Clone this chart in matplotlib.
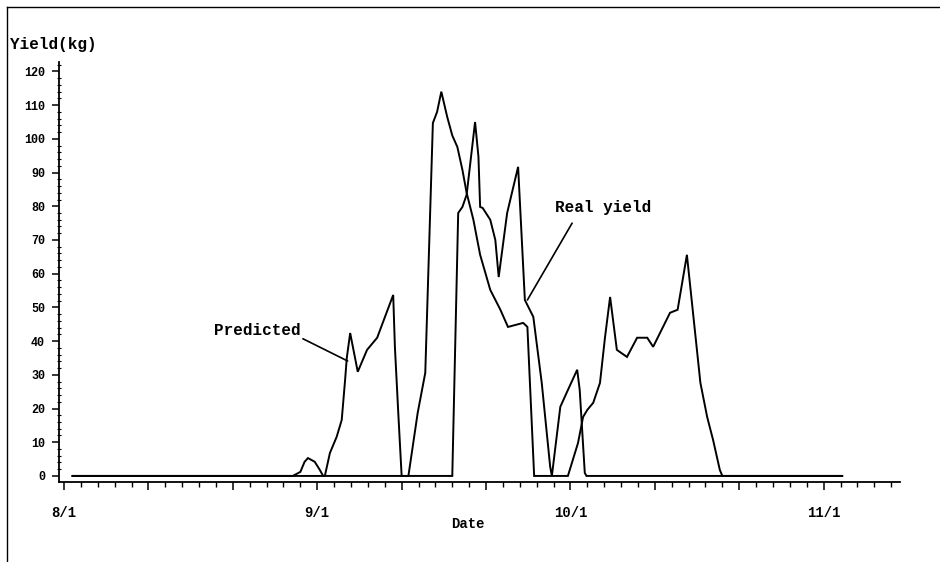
import matplotlib
matplotlib.use("Agg")
import matplotlib.pyplot as plt
from matplotlib.lines import Line2D
from matplotlib.ticker import MultipleLocator, FixedLocator

# ---- data (x in day-units from 8/1; 9/1=30, 10/1=60, 11/1=90) ----
pred_x = [1, 30.9, 31.5, 32.3, 32.9, 33.3, 33.5, 33.9, 34.8, 35.9, 37.1, 39.0, 39.2, 39.6, 40.0,
          40.8, 41.9, 42.8, 43.7, 44.2, 44.7, 45.4, 46.0, 46.6, 47.2, 47.7, 48.5, 49.3, 50.5,
          51.7, 52.6, 54.4, 54.9, 55.2, 55.7, 59.7, 60.9, 61.5, 62.0, 62.7, 63.5, 64.1, 64.7,
          65.5, 66.7, 67.9, 69.1, 69.8, 71.8, 72.7, 73.8, 75.4, 76.2, 76.9, 77.7, 78.0, 92.2]
pred_y = [0, 0, 6.8, 11.6, 16.6, 28.5, 35, 42.4, 30.9, 37.4, 41, 53.7, 38.3, 18.7, 0,
          0, 18.7, 30.6, 104.7, 108, 114, 106.5, 101, 97.6, 90.8, 84, 76, 65.6, 55.2,
          49.3, 44.2, 45.4, 44.2, 27.6, 0, 0, 9.8, 17.5, 19.6, 21.7, 27.6, 41.2, 53.1,
          37.4, 35.3, 41, 41, 38.3, 48.4, 49.3, 65.6, 27.6, 17.5, 10.7, 1.8, 0, 0]

real_x = [1, 27.1, 28.0, 28.5, 28.9, 29.7, 30.3, 30.7, 46.0, 46.7, 47.2, 47.7, 48.7, 49.1,
          49.3, 49.6, 50.5, 51.1, 51.5, 52.5, 53.8, 54.6, 55.6, 56.6, 57.6, 57.8, 58.8, 59.7,
          60.8, 61.1, 61.7, 61.9, 92.2]
real_y = [0, 0, 1.2, 4.2, 5.3, 4.2, 1.8, 0, 0, 78, 79.8, 83.4, 105, 94.7,
          79.8, 79.5, 76, 70, 59, 78, 91.7, 52.2, 47.2, 27.6, 2.7, 0, 20.5, 25.5,
          31.5, 25.5, 0.9, 0, 0]

x_tick_pos = [0, 30, 60, 90]
x_tick_labels = ["8/1", "9/1", "10/1", "11/1"]
y_ticks = list(range(0, 121, 10))

MONO = ["Liberation Mono", "DejaVu Sans Mono"]

fig = plt.figure(figsize=(9.4, 5.62), dpi=100)
fig.patch.set_facecolor("white")

W, H = 940.0, 562.0
ax = fig.add_axes([59 / W, (H - 482) / H, (900 - 59) / W, 420 / H])
ax.set_xlim(-0.6, 99.05)
ax.set_ylim(-1.8, 122.8)

ax.plot(pred_x, pred_y, color="black", lw=1.4, solid_joinstyle="miter")
ax.plot(real_x, real_y, color="black", lw=1.4, solid_joinstyle="miter")

for s in ["top", "right"]:
    ax.spines[s].set_visible(False)
for s in ["left", "bottom"]:
    ax.spines[s].set_linewidth(1.3)

# y ticks
ax.yaxis.set_major_locator(FixedLocator(y_ticks))
ax.yaxis.set_minor_locator(MultipleLocator(2))
ax.tick_params(axis="y", which="major", direction="out", length=5, width=1.1, pad=5,
               labelsize=8.5)
ax.tick_params(axis="y", which="minor", direction="inout", length=2.5, width=0.8)

# x ticks
ax.xaxis.set_major_locator(MultipleLocator(10))
ax.xaxis.set_minor_locator(MultipleLocator(2))
ax.xaxis.set_major_formatter(plt.FuncFormatter(
    lambda v, p: x_tick_labels[x_tick_pos.index(int(round(v)))] if int(round(v)) in x_tick_pos else ""))
ax.tick_params(axis="x", which="major", direction="out", length=6, width=1.1, pad=11,
               labelsize=10)
ax.tick_params(axis="x", which="minor", direction="out", length=3.5, width=1.0)

for lab in ax.get_xticklabels() + ax.get_yticklabels():
    lab.set_family(MONO)
    lab.set_fontweight("bold")

ax.set_xlabel("Date", family=MONO, fontweight="bold", fontsize=10)
ax.xaxis.set_label_coords((468 - 59) / (900 - 59), -(524 - 482) / 420)
ax.xaxis.label.set_va("center")

fig.text(10 / W, 1 - 44 / H, "Yield(kg)", family=MONO, fontweight="bold",
         fontsize=11.5, ha="left", va="center")

# annotations
ax.text(22.9, 43, "Predicted", family=MONO, fontweight="bold", fontsize=11.5,
        ha="center", va="center")
ax.annotate("", xy=(33.6, 34.1), xytext=(28.3, 40.7),
            arrowprops=dict(arrowstyle="-", color="black", lw=1.2, shrinkA=0, shrinkB=0))
ax.text(63.9, 79.5, "Real yield", family=MONO, fontweight="bold", fontsize=11.5,
        ha="center", va="center")
ax.annotate("", xy=(54.9, 52.2), xytext=(60.2, 75),
            arrowprops=dict(arrowstyle="-", color="black", lw=1.2, shrinkA=0, shrinkB=0))

# scanned page frame (top and left border)
fig.add_artist(Line2D([7 / W, 1.0], [1 - 7 / H, 1 - 7 / H], transform=fig.transFigure,
                      color="black", lw=1.0))
fig.add_artist(Line2D([7 / W, 7 / W], [0.0, 1 - 7 / H], transform=fig.transFigure,
                      color="black", lw=1.0))

fig.savefig("out.png", dpi=100, facecolor="white")
